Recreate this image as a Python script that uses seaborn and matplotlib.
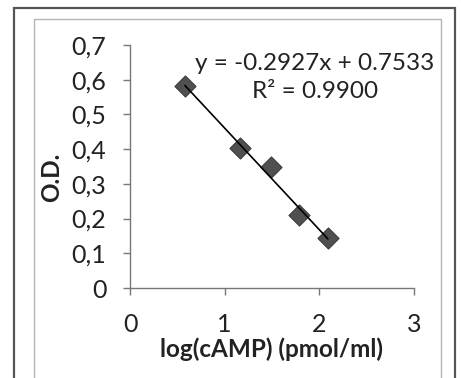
import numpy as np
import pandas as pd
import matplotlib
matplotlib.use("Agg")
import matplotlib.pyplot as plt
from matplotlib.patches import Rectangle
import seaborn as sns

# Standard curve data
log_camp = [0.58, 1.16, 1.49, 1.78, 2.09]
od = [0.582, 0.403, 0.349, 0.210, 0.144]

# Linear fit reported on the chart
slope = -0.2927
intercept = 0.7533
r_squared = 0.9900

x_ticks = [0, 1, 2, 3]
y_ticks = [0, 0.1, 0.2, 0.3, 0.4, 0.5, 0.6, 0.7]
y_tick_labels = ["0", "0,1", "0,2", "0,3", "0,4", "0,5", "0,6", "0,7"]

sns.set_theme(style="white")
plt.rcParams["font.family"] = ["Lato", "DejaVu Sans"]

fig = plt.figure(figsize=(4.61, 3.78), dpi=100)
fig.patch.set_facecolor("white")

# Outer chart frame and inner plot-area frame
fig.add_artist(Rectangle((14 / 461, -0.1), (455 - 14) / 461, 1.1 - 8 / 378,
                         transform=fig.transFigure, fill=False,
                         edgecolor="#555555", linewidth=1.6))
fig.add_artist(Rectangle((34 / 461, -0.1), (441 - 34) / 461, 1.1 - 19 / 378,
                         transform=fig.transFigure, fill=False,
                         edgecolor="#b5b5b5", linewidth=1.0))

ax = fig.add_axes([130 / 461, 90 / 378, (414 - 130) / 461, (333 - 90) / 378])
ax.set_facecolor("none")

df = pd.DataFrame({"x": log_camp, "y": od})
fit_x = [min(log_camp), max(log_camp)]
fit = pd.DataFrame({"x": fit_x, "y": [slope * v + intercept for v in fit_x]})

sns.scatterplot(data=df, x="x", y="y", ax=ax, marker="D", s=115,
                color="#505050", edgecolor="#3c3c3c", linewidth=0.8, zorder=2)
sns.lineplot(data=fit, x="x", y="y", ax=ax, color="black", linewidth=1.2, zorder=3)

ax.set_xlim(0, 3)
ax.set_ylim(0, 0.7)
ax.set_xticks(x_ticks)
ax.set_xticklabels([str(t) for t in x_ticks])
ax.set_yticks(y_ticks)
ax.set_yticklabels(y_tick_labels)

for side in ("top", "right"):
    ax.spines[side].set_visible(False)
for side in ("left", "bottom"):
    ax.spines[side].set_color("#777777")
    ax.spines[side].set_linewidth(1.0)

ax.tick_params(axis="both", which="major", direction="out", length=5, width=1.0,
               color="#777777", labelsize=18, labelcolor="#222222",
               left=True, bottom=True)
ax.tick_params(axis="y", pad=12)
ax.tick_params(axis="x", pad=13)

ax.set_xlabel("log(cAMP) (pmol/ml)", fontsize=17.5, fontweight="bold",
              color="#222222", labelpad=1)
ax.set_ylabel("O.D.", fontsize=17.5, fontweight="bold", color="#222222")
ax.yaxis.set_label_coords(-0.235, 0.457)

ax.text(0.651, 0.866, f"y = {slope}x + {intercept}\nR² = {r_squared:.4f}",
        transform=ax.transAxes, ha="center", va="center", fontsize=17.5,
        color="#222222", linespacing=1.45)

fig.savefig("out.png", dpi=100, facecolor="white")
